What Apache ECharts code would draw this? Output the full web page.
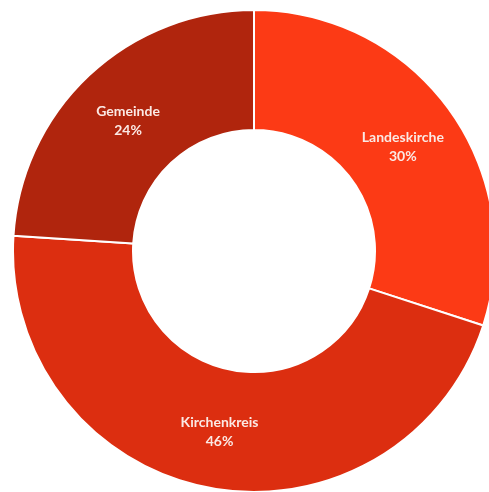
<!DOCTYPE html>
<html>
<head>
<meta charset="utf-8">
<script src="https://cdn.jsdelivr.net/npm/echarts@6/dist/echarts.min.js"></script>
<style>
  html, body { margin: 0; padding: 0; background: #fff; }
  #chart { width: 489px; height: 492px; }
</style>
</head>
<body>
<div id="chart"></div>
<script>
// Share of funding by level
const categories = ['Landeskirche', 'Kirchenkreis', 'Gemeinde'];
const shares = [30, 46, 24];
const sliceColors = ['#fc3a15', '#dc2e10', '#b0250d'];

const pieCenter = [254, 251];

const chart = echarts.init(document.getElementById('chart'), null, { renderer: 'canvas' });

chart.setOption({
  animation: false,
  series: [{
    type: 'pie',
    center: pieCenter,
    radius: [121, 241],
    startAngle: 90,
    clockwise: true,
    avoidLabelOverlap: false,
    itemStyle: { borderColor: '#ffffff', borderWidth: 2 },
    label: {
      show: true,
      position: 'inside',
      formatter: '{b}\n{c}%',
      color: '#fbe9e4',
      fontFamily: 'Lato',
      fontWeight: 'bold',
      fontSize: 14,
      lineHeight: 19
    },
    // labels in the upper half sit a little closer to the ring's middle
    labelLayout: function (params) {
      const r = params.labelRect;
      const cy = r.y + r.height / 2;
      return { dy: cy < pieCenter[1] ? 4 : 0 };
    },
    labelLine: { show: false },
    emphasis: { disabled: true },
    data: categories.map((name, i) => ({
      name,
      value: shares[i],
      itemStyle: { color: sliceColors[i] }
    }))
  }]
});
</script>
</body>
</html>
